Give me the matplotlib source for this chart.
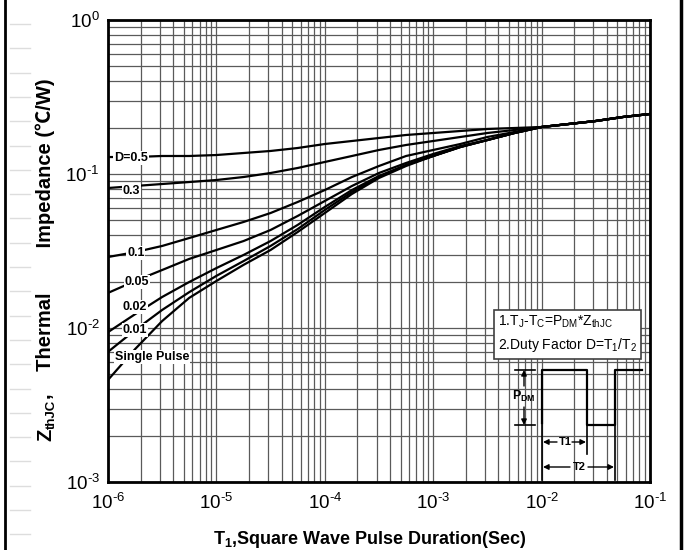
import matplotlib
matplotlib.use("Agg")
from matplotlib import pyplot as plt
from matplotlib.transforms import Affine2D
from matplotlib.lines import Line2D

plt.rcParams['font.family'] = ['Liberation Sans', 'DejaVu Sans']
plt.rcParams['mathtext.fontset'] = 'custom'
plt.rcParams['mathtext.rm'] = 'Liberation Sans'
plt.rcParams['mathtext.it'] = 'Liberation Sans'
plt.rcParams['mathtext.bf'] = 'Liberation Sans:bold'

# pulse duration (s), quarter decades
t_pulse = [1e-6, 1.78e-6, 3.16e-6, 5.62e-6, 1e-5, 1.78e-5, 3.16e-5, 5.62e-5,
           1e-4, 1.78e-4, 3.16e-4, 5.62e-4, 1e-3, 1.78e-3, 3.16e-3, 5.62e-3,
           1e-2, 1.78e-2, 3.16e-2, 5.62e-2, 1e-1]
# thermal impedance (C/W), up to 1e-2
z_d05 = [0.1289, 0.1289, 0.1309, 0.1309, 0.1328, 0.1369, 0.1411, 0.1475, 0.1566, 0.1638,
         0.1713, 0.1792, 0.1846, 0.1902, 0.1960, 0.1989, 0.2019]
z_d03 = [0.0811, 0.0836, 0.0861, 0.0887, 0.0914, 0.0956, 0.1015, 0.1094, 0.1197, 0.1309,
         0.1432, 0.1543, 0.1638, 0.1739, 0.1846, 0.1931, 0.2019]
z_d01 = [0.0289, 0.0311, 0.0341, 0.0384, 0.0433, 0.0488, 0.0558, 0.0658, 0.0787, 0.0956,
         0.1127, 0.1309, 0.1432, 0.1566, 0.1739, 0.1874, 0.2019]
z_d005 = [0.0169, 0.0202, 0.0238, 0.0281, 0.0321, 0.0367, 0.0433, 0.0534, 0.0668, 0.0836,
          0.1015, 0.1179, 0.1349, 0.1520, 0.1662, 0.1846, 0.2019]
z_d002 = [0.0094, 0.0123, 0.0159, 0.0199, 0.0245, 0.0298, 0.0367, 0.0467, 0.0611, 0.0787,
          0.0971, 0.1144, 0.1309, 0.1497, 0.1662, 0.1846, 0.2019]
z_d001 = [0.0070, 0.0097, 0.0131, 0.0171, 0.0218, 0.0272, 0.0341, 0.0439, 0.0584, 0.0764,
          0.0956, 0.1144, 0.1309, 0.1497, 0.1662, 0.1846, 0.2019]
z_single = [0.0046, 0.0073, 0.0111, 0.0157, 0.0202, 0.0257, 0.0321, 0.0420, 0.0558, 0.0742,
            0.0942, 0.1127, 0.1309, 0.1497, 0.1662, 0.1846, 0.2019]
# all curves share the same tail beyond 1e-2
z_tail = [0.2112, 0.2209, 0.2345, 0.2453]

curves = [z_d05, z_d03, z_d01, z_d005, z_d002, z_d001, z_single]
curve_labels = ['D=0.5', '0.3', '0.1', '0.05', '0.02', '0.01', 'Single Pulse']
label_t = [1.14e-6, 1.37e-6, 1.5e-6, 1.43e-6, 1.37e-6, 1.37e-6, 1.16e-6]
label_z = [0.127, 0.0776, 0.0307, 0.0199, 0.0137, 0.0097, 0.00648]

xticks = [1e-6, 1e-5, 1e-4, 1e-3, 1e-2, 1e-1]
xticklabels = ['$10^{\\text{-6}}$', '$10^{\\text{-5}}$', '$10^{\\text{-4}}$',
               '$10^{\\text{-3}}$', '$10^{\\text{-2}}$', '$10^{\\text{-1}}$']
yticks = [1e-3, 1e-2, 1e-1, 1e0]
yticklabels = ['$10^{\\text{-3}}$', '$10^{\\text{-2}}$', '$10^{\\text{-1}}$', '$10^{0}$']

fig = plt.figure(figsize=(6.9, 5.5), dpi=100)
ax = fig.add_axes([108/690, 1-482/550, 542/690, 462/550])
ax.set_xscale('log')
ax.set_yscale('log')
ax.set_xlim(1e-6, 1e-1)
ax.set_ylim(1e-3, 1e0)

ax.grid(True, which='both', color='#5a5a5a', linewidth=0.9)
ax.set_axisbelow(True)
for s in ax.spines.values():
    s.set_linewidth(2)
ax.tick_params(which='both', length=0, labelsize=13.5)
ax.tick_params(axis='x', pad=8)
ax.tick_params(axis='y', pad=6)
ax.set_xticks(xticks)
ax.set_xticklabels(xticklabels)
ax.set_yticks(yticks)
ax.set_yticklabels(yticklabels)

for z in curves:
    ax.plot(t_pulse, z + z_tail, color='black', linewidth=1.6, zorder=3)

for lab, tx, tz in zip(curve_labels, label_t, label_z):
    ax.text(tx, tz, lab, fontsize=9, fontweight='bold', ha='left', va='center', zorder=4,
            bbox=dict(facecolor='white', edgecolor='none', pad=0.6))

# pixel transform (from top-left) for annotations
px = Affine2D().scale(1/690, -1/550).translate(0, 1) + fig.transFigure

fig.text(370/690, 1-539/550, 'T$\\mathregular{_1}$,Square Wave Pulse Duration(Sec)',
         fontsize=13, fontweight='bold', ha='center', va='center')

# y label built in pieces so that the subscript and the degree sign both render
t1 = fig.text(46/690, 1-441/550, 'Z', rotation=90, fontsize=14.5, fontweight='bold',
              ha='center', va='bottom')
t2 = ax.annotate('thJC', xy=(1, 1), xycoords=t1, xytext=(2, 0), textcoords='offset points',
                 rotation=90, fontsize=9.5, fontweight='bold', ha='right', va='bottom')
ax.annotate(',    Thermal        Impedance (\u2103/W)', xy=(1, 1), xycoords=(t1, t2),
            rotation=90, fontsize=14.5, fontweight='bold', ha='right', va='bottom',
            family=['Liberation Sans', 'Noto Sans CJK SC', 'DejaVu Sans'])

# note box
ax.text(498, 334, '1.T$_J$-T$_C$=P$_{DM}$*Z$_{thJC}$\n2.Duty Factor D=T$_1$/T$_2$',
        transform=px, fontsize=10, ha='left', va='center', linespacing=1.5, zorder=5,
        bbox=dict(facecolor='white', edgecolor='#404040', linewidth=1.2, pad=3))

# square wave sketch
wave_x = [542, 542, 587, 587, 615, 615, 642]
wave_y = [423, 370, 370, 425, 425, 370, 370]
fig.add_artist(Line2D(wave_x, wave_y, transform=px, color='black', linewidth=1.6))
for xx, y0, y1 in [(542, 423, 480), (587, 425, 454), (615, 425, 480)]:
    fig.add_artist(Line2D([xx, xx], [y0, y1], transform=px, color='black', linewidth=1.2))
for yy in [370, 425]:
    fig.add_artist(Line2D([515, 535], [yy, yy], transform=px, color='black', linewidth=1.2))

arrow = dict(arrowstyle='-|>', color='black', linewidth=1, mutation_scale=8, shrinkA=0, shrinkB=0)
ax.annotate('', xy=(524, 370), xytext=(524, 386), xycoords=px, textcoords=px, arrowprops=arrow)
ax.annotate('', xy=(524, 425), xytext=(524, 407), xycoords=px, textcoords=px, arrowprops=arrow)
ax.text(524, 396, 'P$_{\\mathregular{DM}}$', transform=px, fontsize=9, fontweight='bold',
        ha='center', va='center')

ax.annotate('', xy=(543, 442), xytext=(557, 442), xycoords=px, textcoords=px, arrowprops=arrow)
ax.annotate('', xy=(586, 442), xytext=(572, 442), xycoords=px, textcoords=px, arrowprops=arrow)
ax.text(565, 442, 'T1', transform=px, fontsize=8, fontweight='bold', ha='center', va='center')
ax.annotate('', xy=(543, 467), xytext=(570, 467), xycoords=px, textcoords=px, arrowprops=arrow)
ax.annotate('', xy=(614, 467), xytext=(588, 467), xycoords=px, textcoords=px, arrowprops=arrow)
ax.text(579, 467, 'T2', transform=px, fontsize=8, fontweight='bold', ha='center', va='center')

# page edges and faint scan marks at the left
fig.add_artist(Line2D([5, 5], [0, 550], transform=px, color='black', linewidth=2))
fig.add_artist(Line2D([681, 681], [0, 550], transform=px, color='black', linewidth=2.5))
for k in range(23):
    yy = 24 + k * 24.3
    fig.add_artist(Line2D([10, 30], [yy, yy], transform=px, color='#dddddd', linewidth=1))

fig.savefig('out.png', dpi=100)
